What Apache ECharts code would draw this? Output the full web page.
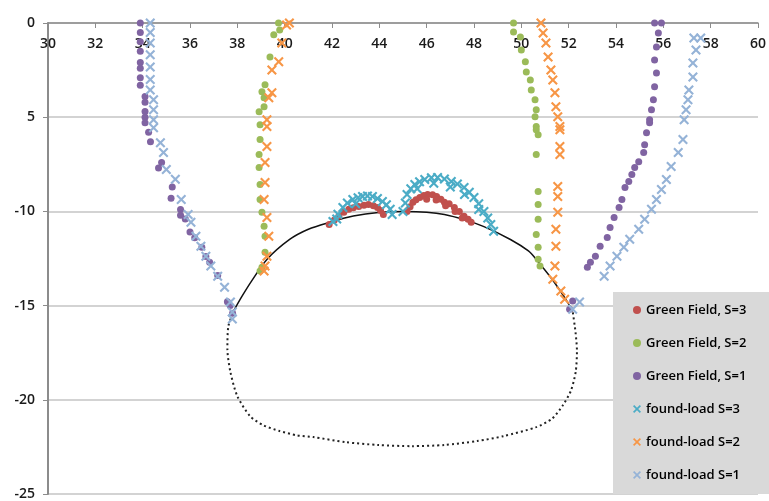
<!DOCTYPE html>
<html lang="en">
<head>
    <meta charset="UTF-8">
    <title>Green Field vs found-load</title>
    <style>
        html, body {
            margin: 0;
            padding: 0;
            background: #fff;
        }

        #chart1 {
            width: 769px;
            height: 501px;
        }
    </style>
</head>
<body>
<div id="chart1"></div>
<script src="https://cdn.jsdelivr.net/npm/echarts@6/dist/echarts.min.js"></script>
<script type="text/javascript">
    // axis ticks
    var yTickValues = [0, -5, -10, -15, -20, -25];
    var yTickLabels = ['0', '5', '-10', '-15', '-20', '-25'];
    var seriesNames = ['Green Field, S=3', 'Green Field, S=2', 'Green Field, S=1',
        'found-load S=3', 'found-load S=2', 'found-load S=1'];

    // Green Field, S=3 (two arcs above the crown)
    var gf3 = [
        [41.88, -10.69], [42.1, -10.45], [42.29, -10.26], [42.5, -10.05], [42.71, -9.89], [42.9, -9.8],
        [43.13, -9.74], [43.35, -9.68], [43.54, -9.63], [43.75, -9.7], [43.92, -9.79], [44.05, -9.95],
        [44.17, -10.16],
        [45.17, -10.0], [45.3, -9.75], [45.42, -9.52], [45.55, -9.38], [45.71, -9.26], [45.88, -9.15],
        [46.04, -9.1], [46.25, -9.12], [46.42, -9.21], [46.6, -9.35], [46.75, -9.52], [46.95, -9.6],
        [47.17, -9.79], [47.38, -10.0], [47.58, -10.26], [47.75, -10.42], [47.88, -10.58],
        [46.0, -9.35], [46.4, -9.4], [46.8, -9.7], [47.2, -10.0], [47.5, -10.35]
    ];

    // Green Field, S=2
    var gf2 = [
        [39.74, 0], [39.79, -0.37], [39.54, -0.63], [39.38, -1.8], [39.17, -3.28], [39.04, -3.65],
        [39.13, -3.97], [39.13, -4.44], [38.92, -4.71], [38.96, -5.4], [38.96, -6.19], [38.92, -6.98],
        [38.92, -7.67], [38.96, -8.57], [38.96, -9.37], [39.04, -10.05], [39.13, -10.79], [39.17, -11.32],
        [39.17, -12.17], [39.04, -12.96], [38.96, -13.17],
        [49.67, 0], [49.67, -0.48], [49.96, -0.74], [50.0, -1.43], [50.17, -2.06], [50.21, -2.6],
        [50.38, -3.02], [50.42, -3.55], [50.58, -4.07], [50.63, -4.6], [50.58, -4.98], [50.63, -5.5],
        [50.63, -5.66], [50.71, -5.93], [50.63, -6.98], [50.71, -8.94], [50.71, -9.63], [50.71, -10.42],
        [50.63, -11.22], [50.71, -11.9], [50.71, -12.54], [50.79, -12.9]
    ];

    // Green Field, S=1
    var gf1 = [
        [33.9, 0], [33.9, -0.5], [33.9, -1.0], [33.9, -1.5], [33.9, -2.1], [33.9, -2.4], [33.9, -2.9],
        [33.9, -3.3], [34.1, -3.9], [34.1, -4.2], [34.1, -4.7], [34.1, -5.0], [34.1, -5.3], [34.25, -5.8],
        [34.33, -6.3], [34.8, -7.4], [34.67, -7.7], [35.25, -8.7], [35.2, -9.3], [35.6, -9.9],
        [35.6, -10.2], [35.8, -10.4], [36.0, -11.1], [36.2, -11.4], [36.5, -11.9], [36.67, -12.4],
        [36.83, -12.7], [37.17, -13.4], [37.58, -14.8], [37.7, -15.0], [37.8, -15.4],
        [55.63, 0], [55.92, 0], [55.79, -0.53], [55.71, -1.27], [55.63, -1.96], [55.71, -2.65],
        [55.63, -3.39], [55.58, -4.07], [55.5, -4.6], [55.42, -5.13], [55.42, -5.29], [55.29, -5.82],
        [55.21, -6.46], [55.17, -6.88], [54.96, -7.36], [54.79, -7.67], [54.67, -8.04], [54.54, -8.41],
        [54.38, -8.73], [54.25, -9.37], [54.13, -9.79], [53.92, -10.32], [53.75, -10.85], [53.63, -11.38],
        [53.33, -11.85], [53.13, -12.38], [52.92, -12.7], [52.79, -12.96],
        [52.17, -14.76], [52.04, -15.19]
    ];

    // found-load S=3
    var fl3 = [
        [42.04, -10.53], [42.25, -10.15], [42.46, -9.79], [42.65, -9.55], [42.88, -9.37], [43.1, -9.28],
        [43.29, -9.21], [43.5, -9.18], [43.71, -9.21], [43.92, -9.32], [44.13, -9.47], [44.3, -9.65],
        [44.46, -9.89], [44.54, -10.16], [42.2, -10.4], [43.0, -9.6],
        [45.0, -10.0], [45.1, -9.55], [45.17, -9.1], [45.33, -8.8], [45.5, -8.57], [45.7, -8.42],
        [45.92, -8.31], [46.2, -8.22], [46.46, -8.2], [46.75, -8.28], [47.04, -8.41], [47.3, -8.55],
        [47.58, -8.73], [47.8, -8.98], [48.0, -9.26], [48.2, -9.6], [48.42, -10.0], [48.58, -10.35],
        [48.71, -10.69], [48.83, -11.06],
        [45.6, -8.8], [46.3, -8.5], [47.0, -8.7], [47.6, -9.1], [48.2, -9.9]
    ];

    // found-load S=2
    var fl2 = [
        [40.2, 0], [40.08, -0.1], [39.88, -1.06], [39.75, -2.06], [39.46, -2.49], [39.46, -3.7],
        [39.33, -3.97], [39.25, -5.13], [39.25, -5.5], [39.25, -6.56], [39.17, -7.41], [39.17, -8.47],
        [39.13, -9.37], [39.25, -10.32], [39.33, -11.32], [39.25, -12.38], [39.17, -12.9], [39.13, -13.17],
        [50.83, 0], [50.92, -0.53], [51.04, -1.06], [51.13, -1.8], [51.25, -2.49], [51.33, -3.02],
        [51.42, -3.7], [51.46, -4.44], [51.54, -4.98], [51.63, -5.5], [51.63, -5.66], [51.63, -6.56],
        [51.63, -6.98], [51.54, -8.68], [51.54, -9.21], [51.54, -10.05], [51.46, -10.95], [51.46, -11.85],
        [51.42, -12.9], [51.33, -13.6], [51.67, -14.23], [51.83, -14.66]
    ];

    // found-load S=1
    var fl1 = [
        [34.32, 0], [34.32, -0.5], [34.32, -1.06], [34.32, -1.69], [34.32, -2.33], [34.32, -3.0],
        [34.32, -3.55], [34.46, -4.07], [34.46, -4.6], [34.46, -5.13], [34.46, -5.56], [34.75, -6.35],
        [34.88, -6.88], [35.0, -7.78], [35.38, -8.3], [35.63, -9.37], [35.92, -10.16], [36.04, -10.58],
        [36.25, -11.32], [36.46, -11.85], [36.67, -12.38], [36.88, -12.9], [37.17, -13.44], [37.46, -14.02],
        [37.71, -14.81], [37.79, -15.34], [37.79, -15.71],
        [57.29, -0.79], [57.58, -0.79], [57.38, -1.43], [57.25, -2.12], [57.25, -2.86], [57.08, -3.55],
        [57.04, -4.07], [56.96, -4.6], [56.88, -5.13], [56.83, -6.19], [56.63, -6.88], [56.33, -7.62],
        [56.13, -8.31], [55.92, -8.84], [55.71, -9.37], [55.5, -9.89], [55.21, -10.42], [54.96, -10.95],
        [54.58, -11.48], [54.33, -11.9], [54.04, -12.38], [53.75, -12.9], [53.5, -13.44],
        [52.46, -14.81], [52.17, -15.19]
    ];

    // tunnel outline: solid crown, dotted invert
    var tunnelTop = [
        [37.88, -15.2], [38.2, -14.5], [38.6, -13.7], [39.25, -12.55], [40.21, -11.49], [41.0, -10.95],
        [41.88, -10.59], [42.9, -10.25], [43.96, -10.06], [45.08, -10.01], [46.0, -10.05], [46.75, -10.17],
        [47.6, -10.45], [48.42, -10.81], [49.54, -11.49], [50.3, -12.1], [50.63, -12.55], [51.3, -13.6],
        [51.88, -14.67], [52.17, -15.3]
    ];
    var tunnelBottom = [
        [37.88, -15.2], [37.62, -16.1], [37.58, -17.32], [37.71, -18.54], [38.0, -19.81], [38.54, -20.87],
        [39.1, -21.35], [39.79, -21.66], [40.5, -21.88], [41.21, -21.98], [42.58, -22.25], [43.96, -22.4],
        [45.38, -22.46], [46.75, -22.4], [48.13, -22.19], [49.25, -21.93], [50.63, -21.45], [51.3, -21.0],
        [51.75, -20.3], [52.1, -19.5], [52.3, -18.5], [52.35, -17.4], [52.29, -16.42], [52.17, -15.3]
    ];

    var colors = ['#c0504d', '#9bbb59', '#8064a2', '#4bacc6', '#f79646', '#95b3d7'];
    var crossPath = 'path://M0,1.5L1.5,0L5,3.5L8.5,0L10,1.5L6.5,5L10,8.5L8.5,10L5,6.5L1.5,10L0,8.5L3.5,5Z';
    var font = '"Open Sans", "Liberation Sans", sans-serif';

    var chart1 = echarts.init(document.getElementById('chart1'));

    function dotSeries(i, data) {
        return {
            name: seriesNames[i],
            type: 'scatter',
            data: data,
            symbol: 'circle',
            symbolSize: 7,
            itemStyle: {color: colors[i], opacity: 1},
            z: 3 + i
        };
    }

    function crossSeries(i, data) {
        return {
            name: seriesNames[i],
            type: 'scatter',
            data: data,
            symbol: crossPath,
            symbolSize: 10,
            itemStyle: {color: colors[i], opacity: 1},
            z: 3 + i
        };
    }

    chart1.setOption({
        animation: false,
        color: colors,
        grid: {
            left: 48,
            right: 1,
            top: 23,
            bottom: 6
        },
        legend: {
            orient: 'vertical',
            left: 613,
            top: 292,
            padding: [11, 24, 12, 20],
            backgroundColor: '#d9d9d9',
            itemWidth: 8,
            itemHeight: 8,
            itemGap: 19,
            textStyle: {
                fontFamily: font,
                fontSize: 13,
                fontWeight: 600,
                color: '#000',
                lineHeight: 14
            },
            data: [
                {name: seriesNames[0], icon: 'circle'},
                {name: seriesNames[1], icon: 'circle'},
                {name: seriesNames[2], icon: 'circle'},
                {name: seriesNames[3], icon: crossPath},
                {name: seriesNames[4], icon: crossPath},
                {name: seriesNames[5], icon: crossPath}
            ]
        },
        xAxis: {
            type: 'value',
            position: 'top',
            min: 30,
            max: 60,
            interval: 2,
            axisLine: {onZero: false, lineStyle: {color: '#8c8c8c', width: 1.5}},
            axisTick: {show: true, inside: true, length: 5, lineStyle: {color: '#8c8c8c'}},
            axisLabel: {
                inside: true,
                margin: 14,
                fontFamily: font,
                fontSize: 14,
                fontWeight: 600,
                color: '#1a1a1a'
            },
            splitLine: {show: false}
        },
        yAxis: {
            type: 'value',
            min: -25,
            max: 0,
            interval: 5,
            axisLine: {show: true, onZero: false, lineStyle: {color: '#8c8c8c', width: 2}},
            axisTick: {show: true, length: 5, lineStyle: {color: '#8c8c8c'}},
            axisLabel: {
                margin: 13,
                fontFamily: font,
                fontSize: 14,
                fontWeight: 600,
                color: '#1a1a1a',
                formatter: function (v) {
                    var k = yTickValues.indexOf(v);
                    return k >= 0 ? yTickLabels[k] : '';
                }
            },
            splitLine: {show: true, lineStyle: {color: '#c4c4c4', width: 1.5}}
        },
        series: [
            {
                type: 'line',
                data: tunnelTop,
                smooth: 0.3,
                symbol: 'none',
                lineStyle: {color: '#111', width: 1.5},
                z: 2
            },
            {
                type: 'line',
                data: tunnelBottom,
                smooth: 0.25,
                symbol: 'none',
                lineStyle: {color: '#222', width: 2, type: [2, 3]},
                z: 2
            },
            dotSeries(0, gf3),
            dotSeries(1, gf2),
            dotSeries(2, gf1),
            crossSeries(3, fl3),
            crossSeries(4, fl2),
            crossSeries(5, fl1)
        ]
    });
</script>
</body>
</html>
